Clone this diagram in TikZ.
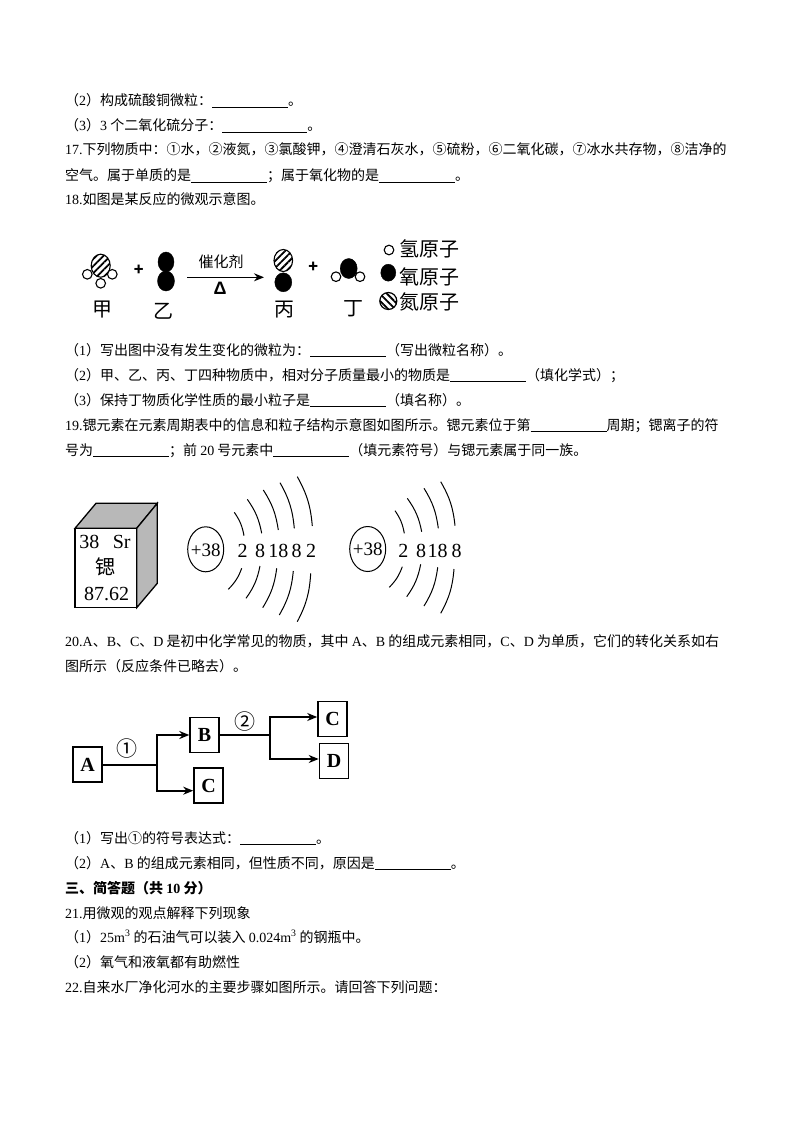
\documentclass[tikz,border=0pt]{standalone}
\usepackage{fontspec}
\setmainfont{Noto Sans CJK SC}
\newfontfamily\enfont{Liberation Serif}
\newfontfamily\deltafont{Liberation Sans}
\usetikzlibrary{arrows.meta,patterns.meta,shapes.geometric}
\def\en#1{{\enfont #1}}
\def\blank#1{\rule[-2pt]{#1pt}{0.8pt}}
\tikzset{
	txtline/.style={anchor=base west,inner sep=0pt,font=\fontsize{14}{14}\selectfont},
	bigtxt/.style={inner sep=0pt,font=\fontsize{20}{20}\selectfont},
	plustxt/.style={inner sep=0pt,font=\fontsize{16}{16}\selectfont\bfseries},
	numtxt/.style={inner sep=0pt,font=\enfont\fontsize{20}{20}\selectfont},
	flowbox/.style={draw,line width=1.6pt,minimum width=29pt,minimum height=35pt,inner sep=0pt,font=\enfont\bfseries\fontsize{20}{20}\selectfont},
	flowline/.style={line width=1.6pt},
	flowarrow/.style={line width=1.6pt,-{Stealth[length=10pt,width=8pt]}},
	shell/.style={line width=1pt},
	hatchne/.style={draw,line width=1.1pt,pattern={Lines[angle=45,distance=5pt,line width=1.8pt]}},
	hatchnw/.style={draw,line width=1.2pt,pattern={Lines[angle=-45,distance=5pt,line width=1.8pt]}},
	hatom/.style={draw,fill=white,line width=1.1pt}
}
\begin{document}
\begin{tikzpicture}[x=1pt,y=-1pt]
			%%%%% START %%%%%
			\useasboundingbox (0,0) rectangle (794,1123);
			
			% text above the reaction
			\node[txtline] (l2) at (65,106) {（\en{2}）构成硫酸铜微粒：\blank{76}。};
			\node[txtline] (l3) at (65,131) {（\en{3}）\en{3} 个二氧化硫分子：\blank{85}。};
			\node[txtline] (l17a) at (65,155) {\en{17.}下列物质中：①水，②液氮，③氯酸钾，④澄清石灰水，⑤硫粉，⑥二氧化碳，⑦冰水共存物，⑧洁净的};
			\node[txtline] (l17b) at (65,181) {空气。属于单质的是\blank{76}；属于氧化物的是\blank{76}。};
			\node[txtline] (l18) at (65,205) {\en{18.}如图是某反应的微观示意图。};
			
			% reaction
			\draw[hatchne] (100.7,265.7) ellipse (9.5 and 11.5);
			\draw[hatom] (87.3,274.3) circle (4.8);
			\draw[hatom] (112.3,274.3) circle (4.8);
			\draw[hatom] (100.7,283.3) circle (4.8);
			\node[plustxt] (plusa) at (138.7,270) {+};
			\draw[fill=black] (166,262) ellipse (8 and 10);
			\draw[fill=black] (166,281) ellipse (8.5 and 10);
			\node[inner sep=0pt,font=\fontsize{15}{15}\selectfont] (cat) at (221,261.5) {催化剂};
			\coordinate (arrs) at (187.3,277.3);
			\coordinate (arre) at (264,277.3);
			\draw[line width=1.2pt,-{Stealth[length=10pt,width=8pt]}] (arrs) -- (arre);
			\node[inner sep=0pt,font=\deltafont\bfseries\fontsize{18}{18}\selectfont] (delta) at (220,288) {Δ};
			\draw[hatchne] (283.3,260.5) ellipse (9.3 and 11);
			\draw[fill=black] (283.3,282.3) ellipse (8.5 and 9.5);
			\node[plustxt] (plusb) at (313.3,267.7) {+};
			\draw[hatom] (336,276.7) circle (4.8);
			\draw[hatom] (360,276.7) circle (4.8);
			\draw[fill=black] (348.7,268.5) ellipse (8.5 and 10);
			\node[bigtxt] (jia) at (102.3,310) {甲};
			\node[bigtxt] (yi) at (163.3,311.5) {乙};
			\node[bigtxt] (bing) at (284,310) {丙};
			\node[bigtxt] (ding) at (353.3,308.5) {丁};
			
			% legend
			\draw[hatom] (389,250) circle (4.8);
			\draw[fill=black] (388.3,272.7) ellipse (7.5 and 8.5);
			\draw[hatchnw] (388.3,301) circle (8.5);
			\node[bigtxt,anchor=west] (legh) at (399.5,249) {氢原子};
			\node[bigtxt,anchor=west] (lego) at (399.5,276.7) {氧原子};
			\node[bigtxt,anchor=west] (legn) at (399.5,301.7) {氮原子};
			
			% text above the atoms
			\node[txtline] (q1) at (65,355) {（\en{1}）写出图中没有发生变化的微粒为：\blank{76}（写出微粒名称）。};
			\node[txtline] (q2) at (65,380) {（\en{2}）甲、乙、丙、丁四种物质中，相对分子质量最小的物质是\blank{76}（填化学式）；};
			\node[txtline] (q3) at (65,405) {（\en{3}）保持丁物质化学性质的最小粒子是\blank{76}（填名称）。};
			\node[txtline] (l19a) at (65,430) {\en{19.}锶元素在元素周期表中的信息和粒子结构示意图如图所示。锶元素位于第\blank{76}周期；锶离子的符};
			\node[txtline] (l19b) at (65,455) {号为\blank{76}；前 \en{20} 号元素中\blank{76}（填元素符号）与锶元素属于同一族。};
			
			% cube
			\draw[line width=1.3pt,fill=black!28] (75,528.3) -- (96,503.3) -- (157.3,503.3) -- (136.7,528.3) -- cycle;
			\draw[line width=1.3pt,fill=black!28] (136.7,528.3) -- (157.3,503.3) -- (157.3,583.3) -- (136.7,607.7) -- cycle;
			\draw[line width=1.3pt,fill=white] (75,528.3) rectangle (136.7,607.7);
			\node[numtxt] (num) at (89.3,541.7) {38};
			\node[numtxt] (sym) at (121.7,541.7) {Sr};
			\node[bigtxt] (name) at (105.7,566.7) {锶};
			\node[numtxt] (mass) at (106.7,594) {87.62};
			
			% first atom
			\draw[line width=1pt] (205.7,549.3) ellipse (18 and 22.5);
			\node[numtxt,font=\enfont\fontsize{19}{19}\selectfont] (nucla) at (205.7,550) {+38};
			\node[numtxt] (a1) at (242.7,551) {2};
			\node[numtxt] (a2) at (260,551) {8};
			\node[numtxt] (a3) at (278.3,551) {18};
			\node[numtxt] (a4) at (296.7,551) {8};
			\node[numtxt] (a5) at (311,551) {2};
			\foreach \xa/\ya/\xb/\yb in {234.3/512.3/244/535.7,247.3/499.3/261.7/533.3,263.3/490/278.3/530,280/482.7/294.3/528.3,297.3/476.7/312.3/526,241.7/568.3/228.3/589.3,260/566/246/598.3,276.7/568.3/262.7/607.7,293.3/571/279.3/615,310.7/573.3/297.3/621.7}
				\draw[shell] (\xa,\ya) to[bend left=12] (\xb,\yb);
			
			% second atom
			\draw[line width=1pt] (367.7,549) ellipse (18 and 22.5);
			\node[numtxt,font=\enfont\fontsize{19}{19}\selectfont] (nuclb) at (367.7,549.5) {+38};
			\node[numtxt] (b1) at (403.3,551) {2};
			\node[numtxt] (b2) at (421,551) {8};
			\node[numtxt] (b3) at (437.7,551) {18};
			\node[numtxt] (b4) at (456.7,551) {8};
			\foreach \xa/\ya/\xb/\yb in {395/510.7/404.3/533.3,407.3/498.3/421.7/531.7,424/488.3/438.3/528.3,440.7/481.7/455/525.7,402.3/566.7/389.3/587.3,420.7/564.3/406.7/596.7,437.7/567.3/424/606,454/569/440.7/613.3}
				\draw[shell] (\xa,\ya) to[bend left=12] (\xb,\yb);
			
			% text above the flow chart
			\node[txtline] (l20a) at (65,646) {\en{20.A}、\en{B}、\en{C}、\en{D} 是初中化学常见的物质，其中 \en{A}、\en{B} 的组成元素相同，\en{C}、\en{D} 为单质，它们的转化关系如右};
			\node[txtline] (l20b) at (65,671) {图所示（反应条件已略去）。};
			
			% flow chart
			\node[flowbox] (A) at (87.7,764.7) {A};
			\node[flowbox] (B) at (204.6,735) {B};
			\node[flowbox] (Cl) at (208.5,785.7) {C};
			\node[flowbox] (Cu) at (332.5,719) {C};
			\node[flowbox] (D) at (334,761) {D};
			\coordinate (ja) at (156.7,764.7);
			\coordinate (jb) at (270,735);
			\draw[flowline] (A) -- (ja);
			\draw[flowarrow] (ja) |- (B);
			\draw[flowarrow] (ja) |- ([yshift=-5pt]Cl.west);
			\draw[flowline] (B) -- (jb);
			\draw[flowarrow] (jb) |- ([yshift=2pt]Cu.west);
			\draw[flowarrow] (jb) |- ([yshift=2pt]D.west);
			\node[inner sep=0pt,font=\fontsize{21}{21}\selectfont] (stepa) at (126.7,749) {①};
			\node[inner sep=0pt,font=\fontsize{21}{21}\selectfont] (stepb) at (245,721.7) {②};
			
			% text at the bottom
			\node[txtline] (r1) at (65,843) {（\en{1}）写出①的符号表达式：\blank{76}。};
			\node[txtline] (r2) at (65,868) {（\en{2}）\en{A}、\en{B} 的组成元素相同，但性质不同，原因是\blank{76}。};
			\node[txtline,font=\fontsize{14}{14}\selectfont\bfseries] (sec) at (65,893) {三、简答题（共 \en{10} 分）};
			\node[txtline] (l21) at (65,918) {\en{21.}用微观的观点解释下列现象};
			\node[txtline] (s1) at (65,942) {（\en{1}）\en{25m\textsuperscript{3}} 的石油气可以装入 \en{0.024m\textsuperscript{3}} 的钢瓶中。};
			\node[txtline] (s2) at (65,967) {（\en{2}）氧气和液氧都有助燃性};
			\node[txtline] (l22) at (65,992) {\en{22.}自来水厂净化河水的主要步骤如图所示。请回答下列问题：};
			
			%%%%% END %%%%%
\end{tikzpicture}
\end{document}
